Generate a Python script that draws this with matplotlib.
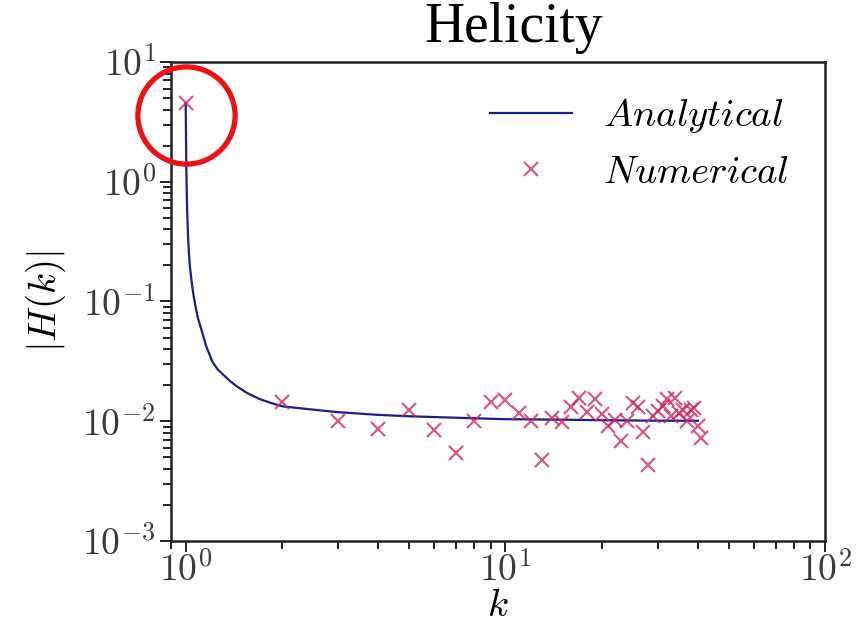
import math
import matplotlib
matplotlib.use('Agg')
import matplotlib.pyplot as plt
import matplotlib.transforms as mtransforms
from matplotlib.ticker import FuncFormatter, NullFormatter

# analytical curve
k_analytic = [1.0, 1.002, 1.005, 1.01, 1.016, 1.022, 1.03, 1.042, 1.055, 1.07, 1.09,
              1.12, 1.16, 1.215, 1.26, 1.32, 1.38, 1.444, 1.55, 1.704, 1.85, 2.01,
              2.5, 3, 4, 5, 7, 10, 15, 20, 30, 40]
h_analytic = [4.5, 2.6, 1.2, 0.6, 0.38, 0.27, 0.2, 0.152, 0.118, 0.095, 0.074,
              0.058, 0.042, 0.031, 0.027, 0.024, 0.0215, 0.0196, 0.0173, 0.0153, 0.0142,
              0.0133, 0.0125, 0.0119, 0.0113, 0.0110, 0.0107, 0.0104, 0.0103, 0.0102,
              0.0101, 0.0101]

# numerical points (k = 1 ... 41)
k_num = list(range(1, 42))
h_num = [4.55, 0.0145, 0.0100, 0.0086, 0.0124, 0.0085, 0.0054, 0.0100, 0.0146, 0.0151,
         0.0118, 0.0100, 0.0047, 0.0107, 0.0098, 0.0132, 0.0157, 0.0120, 0.0153, 0.0114,
         0.0091, 0.0102, 0.0069, 0.0100, 0.0141, 0.0132, 0.0081, 0.0043, 0.0110, 0.0121,
         0.0135, 0.0152, 0.0110, 0.0156, 0.0118, 0.0124, 0.0100, 0.0124, 0.0130, 0.0092,
         0.0072]

plt.rcParams['mathtext.fontset'] = 'cm'

fig = plt.figure(figsize=(8.64, 6.32), dpi=100)
ax = fig.add_axes([0.198, 0.144, 0.757, 0.758])

ax.plot(k_analytic, h_analytic, color='#1c1c8a', lw=1.6, label=r'$Analytical$')
ax.plot(k_num, h_num, ls='none', marker='x', ms=9.5, mew=1.6, color='#c8245e',
        alpha=0.75, label=r'$Numerical$')

# red circle around the k=1 point
circ_tr = mtransforms.offset_copy(ax.transData, fig=fig, x=0, y=-12, units='dots')
ax.plot(k_num[0], h_num[0], ls='none', marker='o', ms=70, mfc='none', mec='#ee1111',
        mew=3.8, transform=circ_tr, clip_on=False, zorder=5)

ax.set_xscale('log')
ax.set_yscale('log')
ax.set_xlim(0.9, 100)
ax.set_ylim(1e-3, 10)

pow10 = FuncFormatter(lambda v, pos: r'$10^{%d}$' % round(math.log10(v)))
ax.xaxis.set_major_formatter(pow10)
ax.yaxis.set_major_formatter(pow10)
ax.xaxis.set_minor_formatter(NullFormatter())
ax.yaxis.set_minor_formatter(NullFormatter())

for s in ax.spines.values():
    s.set_linewidth(1.8)
    s.set_color('#222222')

ax.tick_params(axis='both', which='both', direction='out', width=1.4, colors='#222222',
               labelsize=27, top=False, right=False)
ax.tick_params(axis='both', which='major', length=8)
ax.tick_params(axis='both', which='minor', length=5.5)
ax.tick_params(axis='x', which='major', pad=0)
ax.tick_params(axis='y', which='major', pad=3)
for lab in ax.get_xticklabels() + ax.get_yticklabels():
    lab.set_color('#3a3a3a')

ax.set_xlabel(r'$k$', fontsize=28, labelpad=-2)
ax.set_ylabel(r'$|H(k)|$', fontsize=28, labelpad=10)

ax.legend(loc='upper left', bbox_to_anchor=(0.488, 0.928), frameon=False, fontsize=28,
          handlelength=2.1, handletextpad=0.8, labelspacing=0.45, numpoints=1,
          borderpad=0, borderaxespad=0)

fig.text(0.594, 0.955, 'Helicity', family='Liberation Serif', fontsize=40,
         ha='center', va='center', color='black')

fig.savefig('out.png', dpi=100, facecolor='white')
plt.close()
